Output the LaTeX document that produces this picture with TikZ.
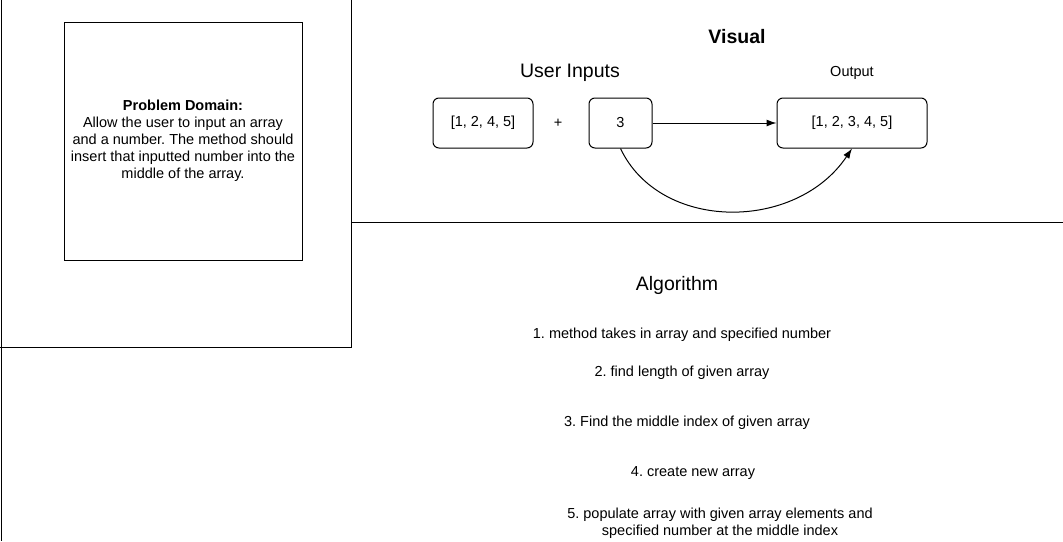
\documentclass[tikz,border=0pt]{standalone}
\usepackage{fontspec}
\setmainfont{Liberation Sans}
\usetikzlibrary{arrows.meta}
\frenchspacing

\begin{document}
\begin{tikzpicture}[x=1pt,y=-1pt,>={Latex[length=10pt,width=7pt]},line width=1pt,
    box/.style={draw,rounded corners=6pt,minimum height=50pt,font=\smalltext},
    note/.style={font=\smalltext,align=center,inner sep=0pt}]

\def\smalltext{\fontsize{14.5}{17}\selectfont}
\def\bigtext{\fontsize{19.5}{22}\selectfont}

\useasboundingbox (0,0) rectangle (1063,541);

% frames
\draw (1,0) -- (1,541);
\draw (0,347) -- (351,347) -- (351,0);
\draw (351,222) -- (1063,222);

\node[draw,minimum width=238pt,minimum height=238pt,note] (domain) at (183,141)
  {\textbf{Problem Domain:}\\Allow the user to input an array\\and a number. The method should\\insert that inputted number into the\\middle of the array.};

% visual
\node[font=\bigtext\bfseries] (visual) at (737,37) {Visual};
\node[font=\bigtext] (inputs) at (570,73) {User Inputs};
\node[font=\smalltext] (outlabel) at (852,73) {Output};

\node[box,minimum width=100pt] (arr) at (483,123) {[1, 2, 4, 5]};
\node[font=\smalltext] (plus) at (558,123) {+};
\node[box,minimum width=63pt] (num) at (620.5,123) {3};
\node[box,minimum width=150pt] (out) at (852,123) {[1, 2, 3, 4, 5]};

\draw[->] (num) -- (out);
\draw[->] (num.south) .. controls (660,232) and (796,232) .. (out.south);

% algorithm
\node[font=\bigtext] (algo) at (677,285) {Algorithm};
\node[note] (step1) at (682,335) {1. method takes in array and specified number};
\node[note] (step2) at (682,373) {2. find length of given array};
\node[note] (step3) at (687,423) {3. Find the middle index of given array};
\node[note] (step4) at (693,473) {4. create new array};
\node[note] (step5) at (720,523) {5. populate array with given array elements and\\specified number at the middle index};

\end{tikzpicture}
\end{document}
